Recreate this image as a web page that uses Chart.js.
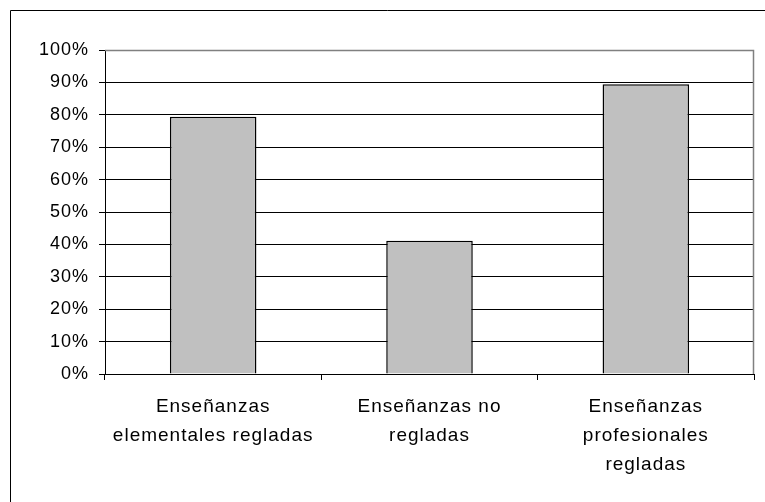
<!DOCTYPE html>
<html>
<head>
<meta charset="utf-8">
<script src="https://cdn.jsdelivr.net/npm/chart.js@4"></script>
<style>
  html, body { margin: 0; padding: 0; background: #fff; }
  #wrap { width: 765px; height: 502px; }
</style>
</head>
<body>
<div id="wrap"><canvas id="chart" width="765" height="502"></canvas></div>
<script>
const categorias = [
  ['Enseñanzas', 'elementales regladas'],
  ['Enseñanzas no', 'regladas'],
  ['Enseñanzas', 'profesionales', 'regladas']
];
const porcentajes = [79.4, 41.1, 89.4];

const fuenteX = { family: '"Liberation Sans", Arial, sans-serif', size: 19, lineHeight: 1.53 };
const fuenteY = { family: '"Liberation Sans", Arial, sans-serif', size: 18 };

// marco exterior (solo lado izquierdo y superior visibles) y borde gris del área
const marco = {
  id: 'marco',
  beforeInit(chart) {
    chart.ctx.letterSpacing = '1px';
  },
  beforeDraw(chart) {
    const ctx = chart.ctx;
    ctx.letterSpacing = '1px';
    ctx.save();
    ctx.strokeStyle = '#000';
    ctx.lineWidth = 1;
    ctx.beginPath();
    ctx.moveTo(10.5, chart.height);
    ctx.lineTo(10.5, 10.5);
    ctx.lineTo(chart.width, 10.5);
    ctx.stroke();
    ctx.restore();
  },
  afterDatasetsDraw(chart) {
    const a = chart.chartArea;
    const ctx = chart.ctx;
    ctx.save();
    ctx.strokeStyle = '#808080';
    ctx.lineWidth = 1.5;
    ctx.beginPath();
    ctx.moveTo(a.left, a.top + 0.5);
    ctx.lineTo(a.right - 0.5, a.top + 0.5);
    ctx.lineTo(a.right - 0.5, a.bottom);
    ctx.stroke();
    ctx.restore();
  }
};

new Chart(document.getElementById('chart').getContext('2d'), {
  type: 'bar',
  data: {
    labels: categorias,
    datasets: [{
      data: porcentajes,
      backgroundColor: '#c0c0c0',
      borderColor: '#000',
      borderWidth: 1.5,
      barPercentage: 0.4,
      categoryPercentage: 1
    }]
  },
  options: {
    responsive: false,
    animation: false,
    layout: { padding: { left: 0, top: 50, right: 11, bottom: 0 } },
    plugins: { legend: { display: false }, tooltip: { enabled: false } },
    scales: {
      x: {
        offset: true,
        grid: { offset: true, drawOnChartArea: false, drawTicks: true, tickLength: 6, color: '#000' },
        border: { color: '#000', width: 1 },
        ticks: { color: '#000', font: fuenteX, padding: 12, maxRotation: 0, autoSkip: false },
        afterFit: s => { s.height = 128; }
      },
      y: {
        min: 0, max: 100,
        grid: { color: '#000', tickLength: 6 },
        border: { color: '#000', width: 1 },
        ticks: { stepSize: 10, color: '#000', font: fuenteY, padding: 10, callback: v => v + '%' },
        afterFit: s => { s.width = 105; }
      }
    }
  },
  plugins: [marco]
});
</script>
</body>
</html>
